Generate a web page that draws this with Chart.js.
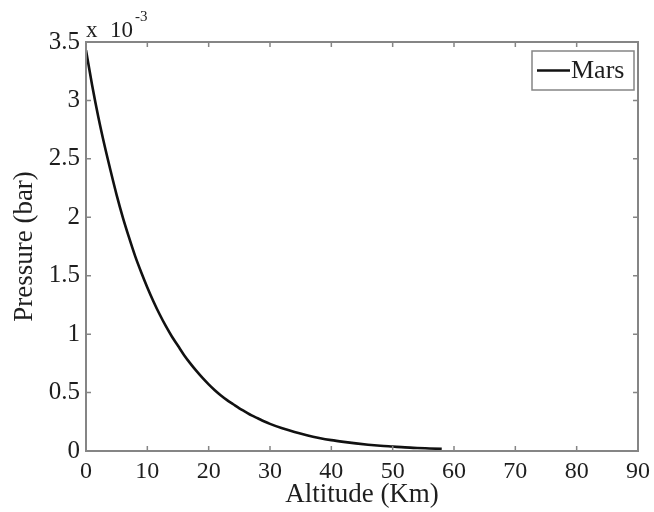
<!DOCTYPE html>
<html>
<head>
<meta charset="utf-8">
<script src="https://cdn.jsdelivr.net/npm/chart.js@4/dist/chart.umd.min.js"></script>
<style>
html,body{margin:0;padding:0;background:#fff;}
#wrap{width:654px;height:512px;position:relative;}
</style>
</head>
<body>
<div id="wrap"><canvas id="c" width="654" height="512"></canvas></div>
<script>
// Data (pressure in units of 10^-3 bar)
const altitudeKm = [0,1,2,3,4,5,6,7,8,9,10,11,12,13,14,15,16,17,18,19,20,21,22,23,24,25,26,27,28,29,30,32,34,36,38,40,42,44,46,48,50,52,54,56,58];
const marsPressure = [3.43,3.13,2.86,2.62,2.40,2.19,2.00,1.83,1.67,1.53,1.40,1.28,1.17,1.07,0.98,0.90,0.82,0.75,0.685,0.625,0.57,0.52,0.475,0.435,0.40,0.365,0.335,0.305,0.28,0.255,0.232,0.194,0.162,0.135,0.112,0.093,0.078,0.065,0.054,0.045,0.038,0.031,0.026,0.022,0.018];
const xTicks = [0,10,20,30,40,50,60,70,80,90];
const yTicks = [0,0.5,1,1.5,2,2.5,3,3.5];
const seriesName = 'Mars';
const xTitle = 'Altitude (Km)';
const yTitle = 'Pressure (bar)';
const expX = 'x';
const expBase = '10';
const expPow = '-3';

const FONT = '"Liberation Serif", "Times New Roman", serif';
const AXIS = '#858585';
const TXT = '#1e1e1e';

const boxPlugin = {
  id: 'matlabBox',
  afterDraw(chart) {
    const {ctx, chartArea: a, scales} = chart;
    ctx.save();
    ctx.strokeStyle = AXIS;
    ctx.lineWidth = 2;
    ctx.strokeRect(a.left, a.top, a.right - a.left, a.bottom - a.top);
    ctx.lineWidth = 1.5;
    const tl = 5;
    ctx.beginPath();
    xTicks.forEach(v => {
      const x = scales.x.getPixelForValue(v);
      ctx.moveTo(x, a.bottom); ctx.lineTo(x, a.bottom - tl);
      ctx.moveTo(x, a.top); ctx.lineTo(x, a.top + tl);
    });
    yTicks.forEach(v => {
      const y = scales.y.getPixelForValue(v);
      ctx.moveTo(a.left, y); ctx.lineTo(a.left + tl, y);
      ctx.moveTo(a.right, y); ctx.lineTo(a.right - tl, y);
    });
    ctx.stroke();
    // exponent label
    ctx.fillStyle = TXT;
    ctx.textBaseline = 'alphabetic';
    ctx.textAlign = 'left';
    ctx.font = '23px ' + FONT;
    ctx.fillText(expX, a.left, 37);
    ctx.fillText(expBase, a.left + 24, 37);
    const w = ctx.measureText(expBase).width;
    ctx.font = '15px ' + FONT;
    ctx.fillText(expPow, a.left + 24 + w + 2, 21);
    // legend
    const lx = 532, ly = 51, lw = 102, lh = 39;
    ctx.fillStyle = '#fff';
    ctx.fillRect(lx, ly, lw, lh);
    ctx.strokeStyle = AXIS;
    ctx.lineWidth = 1.5;
    ctx.strokeRect(lx, ly, lw, lh);
    ctx.strokeStyle = '#111';
    ctx.lineWidth = 2.5;
    ctx.beginPath();
    ctx.moveTo(537, ly + lh / 2); ctx.lineTo(570, ly + lh / 2);
    ctx.stroke();
    ctx.fillStyle = TXT;
    ctx.font = '26px ' + FONT;
    ctx.textBaseline = 'middle';
    ctx.fillText(chart.data.datasets[0].label, 571, ly + lh / 2 + 1);
    ctx.restore();
  }
};

new Chart(document.getElementById('c'), {
  type: 'line',
  data: {
    datasets: [{
      label: seriesName,
      data: altitudeKm.map((x, i) => ({x: x, y: marsPressure[i]})),
      borderColor: '#111',
      borderWidth: 2.6,
      pointRadius: 0,
      cubicInterpolationMode: 'monotone',
      fill: false
    }]
  },
  options: {
    responsive: false,
    animation: false,
    layout: {padding: {left: 0, top: 42, right: 16, bottom: 0}},
    plugins: {legend: {display: false}, tooltip: {enabled: false}},
    scales: {
      x: {
        type: 'linear', min: 0, max: 90,
        afterFit(s) { s.height = 61; s.paddingRight = 0; s.paddingLeft = 0; },
        afterBuildTicks(s) { s.ticks = xTicks.map(v => ({value: v})); },
        grid: {display: false, drawTicks: false, tickLength: 0},
        border: {display: false},
        ticks: {color: TXT, font: {family: FONT, size: 24}, padding: 6, maxRotation: 0, autoSkip: false, callback: v => String(v)},
        title: {display: true, text: xTitle, color: TXT, font: {family: FONT, size: 27}, padding: {top: 0, bottom: 1}}
      },
      y: {
        type: 'linear', min: 0, max: 3.5,
        afterFit(s) { s.width = 86; s.paddingTop = 0; s.paddingBottom = 0; },
        afterBuildTicks(s) { s.ticks = yTicks.map(v => ({value: v})); },
        grid: {display: false, drawTicks: false, tickLength: 0},
        border: {display: false},
        ticks: {color: TXT, font: {family: FONT, size: 25}, padding: 6, autoSkip: false, callback: v => String(v)},
        title: {display: true, text: yTitle, color: TXT, font: {family: FONT, size: 27}, padding: {top: 9, bottom: 0}}
      }
    }
  },
  plugins: [boxPlugin]
});
</script>
</body>
</html>
